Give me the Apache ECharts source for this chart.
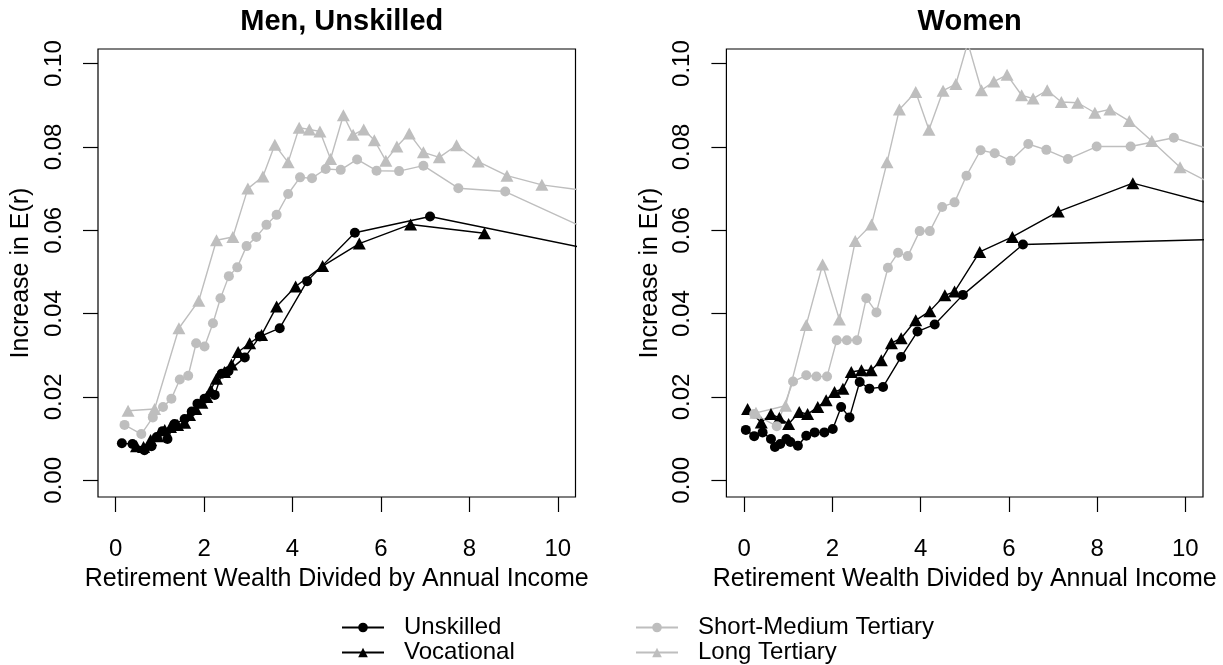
<!DOCTYPE html>
<html>
<head>
<meta charset="utf-8">
<script src="https://cdn.jsdelivr.net/npm/echarts@6/dist/echarts.min.js"></script>
<style>
  html, body { margin: 0; padding: 0; background: #fff; }
  #chart { width: 1223px; height: 665px; }
</style>
</head>
<body>
<div id="chart"></div>
<script>
// Tick positions shared by both panels
const xTicks = [0, 2, 4, 6, 8, 10];
const yTicks = [0, 0.02, 0.04, 0.06, 0.08, 0.10];

// Panel titles and legend labels
const panelTitles = ['Men, Unskilled', 'Women'];
const seriesNames = ['Unskilled', 'Vocational', 'Short-Medium Tertiary', 'Long Tertiary'];

// Men, Unskilled panel: [wealth / income, increase in E(r)]
const menUnskilled = [[0.14,0.0089],[0.38,0.0087],[0.65,0.0072],[0.81,0.0082],[0.93,0.0104],[1.06,0.0118],[1.17,0.0099],[1.33,0.0135],[1.56,0.0147],[1.72,0.0165],[1.85,0.0184],[2.01,0.0196],[2.24,0.0205],[2.40,0.0256],[2.55,0.0262],[2.92,0.0295],[3.26,0.0345],[3.71,0.0365],[4.33,0.0478],[5.41,0.0594],[7.11,0.0633],[11.0,0.0549]];
const menVocational = [[0.47,0.0082],[0.63,0.0080],[0.79,0.0097],[0.95,0.0106],[1.11,0.0121],[1.24,0.0128],[1.40,0.0133],[1.56,0.0138],[1.67,0.0157],[1.81,0.0171],[1.95,0.0186],[2.06,0.0200],[2.15,0.0217],[2.28,0.0244],[2.46,0.0260],[2.62,0.0278],[2.77,0.0308],[3.03,0.0329],[3.30,0.0349],[3.64,0.0417],[4.07,0.0465],[4.68,0.0514],[5.51,0.0568],[6.67,0.0614],[8.34,0.0593]];
const menShortMedium = [[0.20,0.0133],[0.58,0.0111],[0.84,0.0151],[1.07,0.0176],[1.26,0.0196],[1.45,0.0242],[1.64,0.0251],[1.82,0.0329],[2.01,0.0321],[2.20,0.0377],[2.37,0.0437],[2.56,0.0490],[2.75,0.0511],[2.96,0.0562],[3.18,0.0584],[3.41,0.0613],[3.64,0.0637],[3.90,0.0687],[4.17,0.0727],[4.44,0.0725],[4.75,0.0747],[5.09,0.0745],[5.46,0.0770],[5.90,0.0743],[6.41,0.0742],[6.96,0.0755],[7.75,0.0701],[8.81,0.0693],[11.0,0.0586]];
const menLong = [[0.28,0.0167],[0.88,0.0171],[1.43,0.0365],[1.88,0.0431],[2.28,0.0576],[2.65,0.0584],[2.99,0.0700],[3.33,0.0729],[3.60,0.0805],[3.90,0.0763],[4.15,0.0846],[4.38,0.0842],[4.62,0.0837],[4.86,0.0771],[5.15,0.0876],[5.37,0.0829],[5.61,0.0842],[5.85,0.0816],[6.11,0.0767],[6.36,0.0801],[6.64,0.0832],[6.96,0.0787],[7.32,0.0775],[7.71,0.0804],[8.20,0.0765],[8.85,0.0731],[9.64,0.0709],[11.0,0.0690]];

// Women panel
const womenUnskilled = [[0.04,0.0121],[0.23,0.0106],[0.42,0.0115],[0.61,0.0099],[0.70,0.0080],[0.82,0.0087],[0.96,0.0099],[1.05,0.0092],[1.22,0.0083],[1.41,0.0107],[1.60,0.0115],[1.82,0.0115],[2.01,0.0123],[2.20,0.0176],[2.39,0.0151],[2.62,0.0236],[2.84,0.0220],[3.15,0.0224],[3.56,0.0296],[3.93,0.0357],[4.32,0.0374],[4.96,0.0445],[6.32,0.0566],[11.0,0.0579]];
const womenVocational = [[0.08,0.0171],[0.39,0.0139],[0.61,0.0159],[0.80,0.0150],[1.01,0.0135],[1.25,0.0164],[1.44,0.0159],[1.67,0.0176],[1.86,0.0192],[2.05,0.0212],[2.24,0.0220],[2.43,0.0260],[2.66,0.0264],[2.88,0.0264],[3.11,0.0288],[3.34,0.0329],[3.56,0.0341],[3.89,0.0384],[4.21,0.0406],[4.55,0.0444],[4.77,0.0453],[5.34,0.0548],[6.08,0.0584],[7.12,0.0645],[8.81,0.0713],[11.0,0.0652]];
const womenShortMedium = [[0.23,0.0159],[0.74,0.0130],[1.11,0.0237],[1.41,0.0252],[1.64,0.0249],[1.88,0.0249],[2.10,0.0336],[2.33,0.0336],[2.56,0.0336],[2.77,0.0437],[3.00,0.0403],[3.26,0.0510],[3.49,0.0546],[3.71,0.0538],[3.98,0.0598],[4.21,0.0598],[4.49,0.0656],[4.77,0.0667],[5.04,0.0731],[5.36,0.0792],[5.68,0.0785],[6.04,0.0767],[6.44,0.0807],[6.85,0.0793],[7.34,0.0771],[7.99,0.0801],[8.76,0.0801],[9.74,0.0822],[11.0,0.0779]];
const womenLong = [[0.27,0.0162],[0.94,0.0179],[1.41,0.0373],[1.78,0.0518],[2.16,0.0386],[2.52,0.0574],[2.89,0.0614],[3.24,0.0763],[3.52,0.0890],[3.89,0.0932],[4.19,0.0841],[4.51,0.0935],[4.80,0.0951],[5.07,0.1050],[5.38,0.0936],[5.66,0.0957],[5.96,0.0973],[6.29,0.0924],[6.55,0.0916],[6.87,0.0936],[7.19,0.0908],[7.56,0.0906],[7.95,0.0882],[8.29,0.0890],[8.73,0.0862],[9.24,0.0814],[9.88,0.0751],[11.0,0.0690]];

const FONT = '"Liberation Sans", Arial, Helvetica, sans-serif';
const BLACK = '#000000';
const GRAY = '#bebebe';

const panels = [
  { left: 98, right: 1223 - 575.5 },
  { left: 726.4, right: 1223 - 1203 }
];
const gridTop = 49, gridBottom = 665 - 497;

function xAxisFor(i) {
  return {
    type: 'value', gridIndex: i, min: -0.4, max: 10.4, position: 'bottom',
    name: 'Retirement Wealth Divided by Annual Income',
    nameLocation: 'middle', nameGap: 70,
    nameTextStyle: { fontFamily: FONT, fontSize: 25, color: BLACK },
    axisLine: { show: false, onZero: false },
    splitLine: { show: false },
    axisTick: { show: true, inside: false, customValues: xTicks, length: 15, lineStyle: { color: BLACK, width: 1.2 } },
    axisLabel: { customValues: xTicks, fontFamily: FONT, fontSize: 24, color: BLACK, margin: 40 }
  };
}
function yAxisFor(i) {
  return {
    type: 'value', gridIndex: i, min: -0.004, max: 0.1035, position: 'left',
    name: 'Increase in E(r)',
    nameLocation: 'middle', nameGap: 64,
    nameTextStyle: { fontFamily: FONT, fontSize: 25, color: BLACK },
    axisLine: { show: false, onZero: false },
    splitLine: { show: false },
    axisTick: { show: true, inside: false, customValues: yTicks, length: 15, lineStyle: { color: BLACK, width: 1.2 } },
    axisLabel: { customValues: yTicks, rotate: 90, fontFamily: FONT, fontSize: 24, color: BLACK, margin: 32,
                 formatter: v => v.toFixed(2) }
  };
}
function lineSeries(name, data, i, symbol, color) {
  return {
    type: 'line', name, data, xAxisIndex: i, yAxisIndex: i,
    symbol, symbolSize: symbol === 'triangle' ? [13, 12] : 10,
    showAllSymbol: true, clip: true, animation: false,
    lineStyle: { color, width: 1.4 },
    itemStyle: { color, opacity: 1 },
    emphasis: { disabled: true }
  };
}

const groups = [
  [menUnskilled, menVocational, menShortMedium, menLong],
  [womenUnskilled, womenVocational, womenShortMedium, womenLong]
];
const symbols = ['circle', 'triangle', 'circle', 'triangle'];
const colors = [BLACK, BLACK, GRAY, GRAY];

const series = [];
groups.forEach((g, i) => g.forEach((d, k) => series.push(lineSeries(seriesNames[k], d, i, symbols[k], colors[k]))));

const legendText = { fontFamily: FONT, fontSize: 24, color: BLACK, padding: [0, 0, 0, 15], lineHeight: 25 };
const legendBase = {
  orient: 'vertical', top: 615, height: 50, padding: 0,
  itemWidth: 42, itemHeight: 12, itemGap: 0, textStyle: legendText, selectedMode: false
};

const option = {
  backgroundColor: '#ffffff',
  animation: false,
  title: panelTitles.map((t, i) => ({
    text: t,
    left: (panels[i].left + (1223 - panels[i].right)) / 2,
    top: 2,
    textAlign: 'center',
    textStyle: { fontFamily: FONT, fontSize: 29, fontWeight: 'bold', color: BLACK }
  })),
  grid: panels.map(p => ({
    left: p.left, right: p.right, top: gridTop, bottom: gridBottom,
    show: true, borderColor: BLACK, borderWidth: 1.2, backgroundColor: 'transparent',
    containLabel: false
  })),
  xAxis: [xAxisFor(0), xAxisFor(1)],
  yAxis: [yAxisFor(0), yAxisFor(1)],
  legend: [
    Object.assign({ data: seriesNames.slice(0, 2), left: 341 }, legendBase),
    Object.assign({ data: seriesNames.slice(2), left: 635 }, legendBase)
  ],
  series
};

const chart = echarts.init(document.getElementById('chart'), null, { renderer: 'canvas' });
chart.setOption(option);
</script>
</body>
</html>
